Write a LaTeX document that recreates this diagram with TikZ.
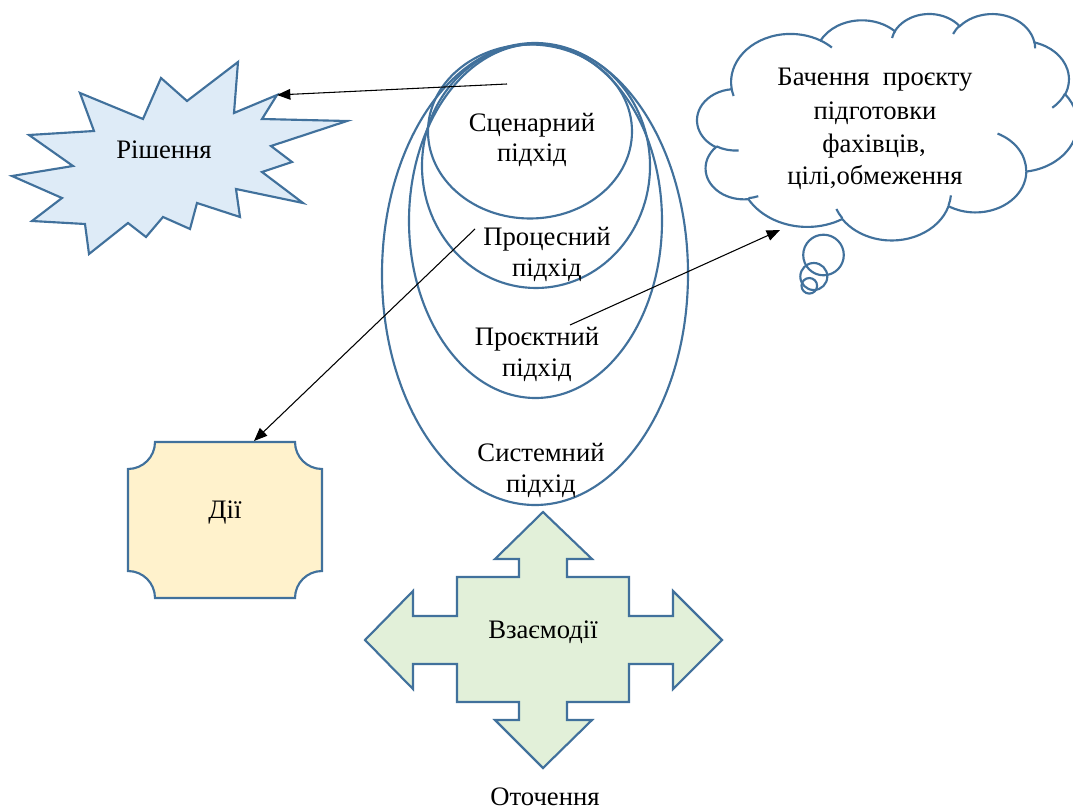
\documentclass[tikz,border=0pt]{standalone}
\usepackage{fontspec}
\setmainfont{Liberation Serif}
\usetikzlibrary{arrows.meta}

\definecolor{outl}{HTML}{41719C}
\definecolor{starfill}{HTML}{DEEBF7}
\definecolor{plaquefill}{HTML}{FFF2CC}
\definecolor{crossfill}{HTML}{E2F0D9}

\tikzset{
  shapeline/.style={draw=outl, line width=1.6pt, line join=miter},
  conn/.style={draw=black, line width=0.8pt, -{Triangle[length=10pt,width=8pt]}},
  lbl/.style={font=\fontsize{20pt}{23pt}\selectfont, inner sep=0pt, anchor=base},
  % elliptical arc given by radii and "visual" start/sweep angles
  varc/.style n args={4}{insert path={
    arc[x radius=#1, y radius=#2,
        start angle={atan2((#1)*sin(#3),(#2)*cos(#3))},
        delta angle={mod(atan2((#1)*sin(#3+#4),(#2)*cos(#3+#4))-atan2((#1)*sin(#3),(#2)*cos(#3))+720,360)}]
  }}
}

\begin{document}
\begin{tikzpicture}[x=0.75pt,y=-0.75pt]
\fill[white] (0,0) rectangle (1073,809);
\useasboundingbox (0,0) rectangle (1073,809);

% --- nested ellipses of approaches ---
\draw[shapeline] (535,274) ellipse [x radius=153, y radius=231];
\draw[shapeline] (535.5,221) ellipse [x radius=126.5, y radius=177];
\draw[shapeline] (536,166) ellipse [x radius=114, y radius=122];
\draw[shapeline] (530,131.5) ellipse [x radius=102, y radius=87];

\node[lbl] (scen1) at (532,131.5) {Сценарний};
\node[lbl] (scen2) at (532,162) {підхід};
\node[lbl] (proc1) at (547,245) {Процесний};
\node[lbl] (proc2) at (547,276) {підхід};
\node[lbl] (proj1) at (537,345) {Проєктний};
\node[lbl] (proj2) at (537,376) {підхід};
\node[lbl] (sys1) at (541,461.5) {Системний};
\node[lbl] (sys2) at (541,492) {підхід};

% --- explosion: decision ---
\path[shapeline, fill=starfill]
  (80,93) -- (143,119) -- (161,78) -- (187,101) -- (238,62) -- (234,113)
  -- (277,95) -- (262,119) -- (347,121) -- (271,146) -- (292,162) -- (262,172)
  -- (303,203) -- (236,189) -- (240,217) -- (197,203) -- (190,229) -- (163,217)
  -- (146,237) -- (128,223) -- (89,254) -- (85,224) -- (32,221) -- (62,198)
  -- (12,176) -- (73,166) -- (29,135) -- (94,131) -- cycle;
\coordinate (starTip) at (277,95);
\node[lbl] (decision) at (164,159) {Рішення};

% --- plaque: actions ---
\path[shapeline, fill=plaquefill]
  (155,442) -- (295,442) arc[start angle=180, end angle=90, radius=27]
  -- (322,571) arc[start angle=270, end angle=180, radius=27]
  -- (155,598) arc[start angle=0, end angle=-90, radius=27]
  -- (128,469) arc[start angle=90, end angle=0, radius=27] -- cycle;
\coordinate (plaqueTop) at (254,441);
\node[lbl] (actions) at (225,518) {Дії};

% --- four-way arrow: interactions ---
\path[shapeline, fill=crossfill]
  (543,512) -- (592,559) -- (567,559) -- (567,577) -- (629,577) -- (629,616)
  -- (673,616) -- (673,591) -- (722,640) -- (673,689) -- (673,664) -- (629,664)
  -- (629,702) -- (567,702) -- (567,720) -- (592,720) -- (543,768) -- (495,720)
  -- (519,720) -- (519,702) -- (457,702) -- (457,664) -- (413,664) -- (413,689)
  -- (365,640) -- (413,591) -- (413,616) -- (457,616) -- (457,577) -- (519,577)
  -- (519,559) -- (495,559) -- cycle;
\node[lbl] (inter) at (543,638.3) {Взаємодії};
\node[lbl] (env) at (545,805) {Оточення};

% --- thought cloud: vision ---
\begin{scope}[shift={(697.3,13.26)}, xscale=0.8797, yscale=0.5241]
  \path[shapeline, fill=white] (39.00,143.70)
    [varc={67.53}{91.90}{-190.4875}{123.7805}]
    [varc={53.33}{72.67}{-144.1024}{89.9452}]
    [varc={43.65}{59.45}{-145.8079}{99.7230}]
    [varc={48.57}{65.95}{-130.9861}{117.2417}]
    [varc={53.33}{72.73}{-78.7089}{109.0269}]
    [varc={67.75}{92.20}{-46.2673}{130.2690}]
    [varc={57.85}{78.67}{0.6250}{114.0333}]
    [varc={67.52}{92.15}{22.4516}{115.1726}]
    [varc={77.20}{105.43}{66.2426}{75.7110}]
    [varc={43.60}{59.18}{-274.9421}{146.7356}]
    [varc={43.45}{59.45}{-246.8285}{152.5189}]
    -- cycle;
  \draw[shapeline]
    (46.93,261.77) [varc={43.45}{59.45}{86.7420}{26.4295}]
    (69.28,348.99) [varc={43.60}{59.18}{73.6105}{11.4475}]
    (164.78,390.90) [varc={67.52}{92.15}{137.6242}{14.0811}]
    (288.27,347.51) [varc={67.52}{92.15}{6.4533}{15.9984}]
    (341.29,229.54) [varc={57.85}{78.67}{-70.2924}{70.9174}]
    (417.98,153.54) [varc={53.33}{72.73}{30.3180}{27.7515}]
    (383.24,54.26) [varc={48.57}{65.95}{-13.7443}{14.8589}]
    (290.78,39.52) [varc={48.57}{65.95}{-149.1815}{18.1954}]
    (221.41,47.20) [varc={43.65}{59.45}{-163.4943}{17.6864}]
    (140.00,51.92) [varc={67.53}{91.90}{-66.7070}{12.3194}]
    (41.27,157.89) [varc={67.53}{91.90}{157.6544}{11.8582}];
\end{scope}
\draw[shapeline] (823.5,255) circle [radius=20.3];
\draw[shapeline] (813.8,276.5) circle [radius=13.5];
\draw[shapeline] (809.3,285.8) circle [radius=7.8];
\coordinate (cloudTip) at (780,230);

\node[lbl] (vis1) at (875,86) {Бачення\ \ проєкту};
\node[lbl] (vis2) at (875,119.3) {підготовки};
\node[lbl] (vis3) at (874,152.7) {фахівців,};
\node[lbl] (vis4) at (875,185) {цілі,обмеження};

% --- connectors ---
\coordinate (scenStart) at (507,84);
\coordinate (procStart) at (475,229);
\coordinate (projStart) at (570,325);
\draw[conn] (scenStart) -- (starTip);
\draw[conn] (procStart) -- (plaqueTop);
\draw[conn] (projStart) -- (cloudTip);
\end{tikzpicture}
\end{document}
